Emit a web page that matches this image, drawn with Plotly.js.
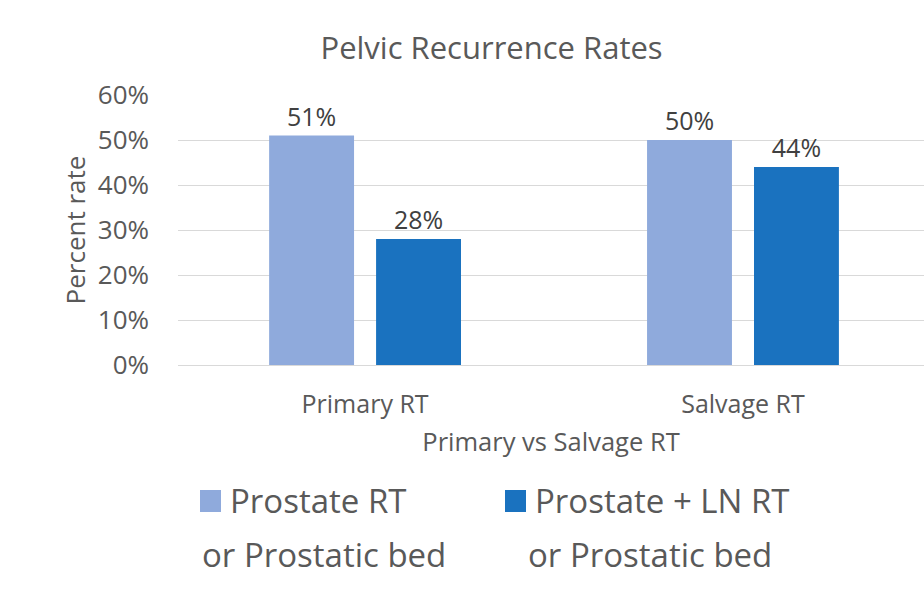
<!DOCTYPE html>
<html>
<head>
<meta charset="utf-8">
<script src="https://cdn.plot.ly/plotly-3.0.1.min.js"></script>
<style>html,body{margin:0;padding:0;background:#fff;}#chart{width:924px;height:602px;}</style>
</head>
<body>
<div id="chart"></div>
<script>
const categories = ["Primary RT", "Salvage RT"];
const seriesNames = ["Prostate RT", "Prostate + LN RT"];
const seriesNotes = ["or Prostatic bed", "or Prostatic bed"];
const prostateRT = [0.51, 0.50];
const prostateLNRT = [0.28, 0.44];
const seriesColors = ["#8FAADC", "#1A72BF"];
const yTicks = [0, 0.1, 0.2, 0.3, 0.4, 0.5, 0.6];
const yTickLabels = ["0%", "10%", "20%", "30%", "40%", "50%", "60%"];

const FONT = "Open Sans, Lato, sans-serif";
const series = [prostateRT, prostateLNRT];

const traces = series.map((vals, i) => ({
  type: "bar",
  name: seriesNames[i],
  x: categories,
  y: vals,
  marker: {color: seriesColors[i]},
  text: vals.map(v => Math.round(v * 100) + "%"),
  textposition: "outside",
  textfont: {family: FONT, size: 25, color: "#404040"},
  cliponaxis: false,
  hoverinfo: "x+y",
  showlegend: false
}));

// custom legend (squares + two-line labels)
const legSq = [200, 505];
const legNote = [202, 528];
const shapes = [];
const annotations = [];
seriesNames.forEach((n, i) => {
  shapes.push({type: "rect", xref: "paper", yref: "paper",
    x0: (legSq[i] - 178) / 746, x1: (legSq[i] + 21 - 178) / 746,
    y0: (365 - 512) / 270, y1: (365 - 490) / 270,
    fillcolor: seriesColors[i], line: {width: 0}});
  annotations.push({xref: "paper", yref: "paper", xanchor: "left", yanchor: "middle",
    x: (legSq[i] + 28 - 178) / 746, y: (365 - 501) / 270, showarrow: false,
    text: n, font: {family: FONT, size: 33, color: "#595959"}});
  annotations.push({xref: "paper", yref: "paper", xanchor: "left", yanchor: "middle",
    x: (legNote[i] - 2 - 178) / 746, y: (365 - 554) / 270, showarrow: false,
    text: seriesNotes[i], font: {family: FONT, size: 33, color: "#595959"}});
});

const layout = {
  width: 924, height: 602,
  margin: {l: 178, r: 0, t: 95, b: 237},
  paper_bgcolor: "#ffffff", plot_bgcolor: "#ffffff",
  font: {family: FONT, color: "#595959"},
  title: {text: "Pelvic Recurrence Rates", font: {family: FONT, size: 31, color: "#595959"},
    x: 0.532, xref: "container", xanchor: "center", y: 0.92, yref: "container", yanchor: "middle"},
  barmode: "group",
  bargap: 0.434,
  bargroupgap: 0.206,
  xaxis: {
    range: [-0.495, 1.479],
    showgrid: false, showline: false, zeroline: false, ticks: "",
    tickfont: {family: FONT, size: 25, color: "#595959"},
    ticklabelstandoff: 22,
    title: {text: "Primary vs Salvage RT", font: {family: FONT, size: 25.5, color: "#595959"}, standoff: 14}
  },
  yaxis: {
    range: [0, 0.6],
    tickvals: yTicks, ticktext: yTickLabels,
    showgrid: true, gridcolor: "#D9D9D9", gridwidth: 1,
    zeroline: true, zerolinecolor: "#D9D9D9", zerolinewidth: 1,
    showline: false, ticks: "",
    tickfont: {family: FONT, size: 26, color: "#595959"},
    ticklabelstandoff: 28,
    title: {text: "Percent rate", font: {family: FONT, size: 26, color: "#595959"}, standoff: 4}
  },
  shapes: shapes,
  annotations: annotations
};

Plotly.newPlot("chart", traces, layout, {displayModeBar: false, staticPlot: true});
</script>
</body>
</html>
